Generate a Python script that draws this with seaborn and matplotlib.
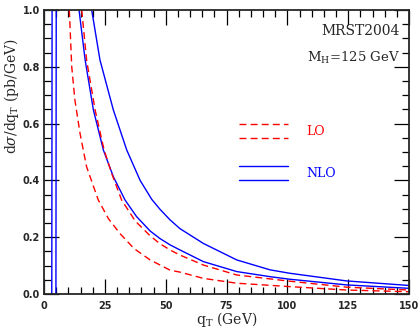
import numpy as np
import pandas as pd
import matplotlib
matplotlib.use("Agg")
import matplotlib.pyplot as plt
import seaborn as sns
from matplotlib.lines import Line2D
from matplotlib.legend_handler import HandlerBase
from matplotlib.ticker import MultipleLocator

# ---- data ----
nlo_a_qt = [2.6, 3.2, 3.4, 8, 13.5, 14.4, 16.9, 20.3, 24.4, 28.5, 33.3, 38.0, 43.6, 47.7, 51.8, 55.9, 65.5, 79.2, 92.9, 101, 124.4, 150]
nlo_a_y = [-1.0, 0.0, 1.6, 3.0, 1.07, 1.0, 0.824, 0.648, 0.507, 0.413, 0.331, 0.273, 0.222, 0.195, 0.173, 0.155, 0.114, 0.079, 0.061, 0.052, 0.032, 0.020]

nlo_b_qt = [4.3, 4.9, 5.1, 10, 18.5, 19.6, 23.0, 28.5, 34.0, 39.5, 44.3, 47.7, 51.8, 55.9, 65.5, 79.2, 92.9, 101, 124.4, 150]
nlo_b_y = [-1.0, 0.0, 1.6, 3.0, 1.06, 1.0, 0.824, 0.648, 0.507, 0.400, 0.333, 0.298, 0.261, 0.23, 0.178, 0.12, 0.085, 0.073, 0.046, 0.030]

lo_b_qt = [14.0, 15.5, 17.5, 21.0, 24.7, 27.8, 31.9, 37.5, 43.6, 47.5, 51.8, 55.9, 65.5, 79.2, 100, 124.4, 150]
lo_b_y = [1.09, 1.0, 0.824, 0.648, 0.507, 0.425, 0.331, 0.257, 0.205, 0.178, 0.155, 0.137, 0.102, 0.067, 0.046, 0.024, 0.014]

lo_a_qt = [9.8, 10.4, 11.4, 12.7, 14.8, 17.5, 22.3, 26.5, 31.2, 37.0, 43.6, 51.8, 55.9, 65.5, 79.2, 101, 124.4, 150]
lo_a_y = [1.12, 1.0, 0.80, 0.683, 0.566, 0.448, 0.331, 0.265, 0.213, 0.16, 0.12, 0.084, 0.077, 0.055, 0.038, 0.026, 0.014, 0.008]

x_ticks = [0, 25, 50, 75, 100, 125, 150]
y_ticks = [0.0, 0.2, 0.4, 0.6, 0.8, 1.0]
y_ticklabels = ["0.0", "0.2", "0.4", "0.6", "0.8", "1.0"]

RED = "#ff0000"
BLUE = "#0000ff"

sns.set_style("ticks")
plt.rcParams["font.family"] = ["DejaVu Serif", "DejaVu Sans"]
plt.rcParams["mathtext.fontset"] = "dejavuserif"

fig = plt.figure(figsize=(4.2, 3.28), dpi=100)
ax = fig.add_axes([44 / 420, 34 / 328, 365 / 420, 284 / 328])

frames = []
for name, q, y in [("nlo_a", nlo_a_qt, nlo_a_y), ("nlo_b", nlo_b_qt, nlo_b_y),
                   ("lo_a", lo_a_qt, lo_a_y), ("lo_b", lo_b_qt, lo_b_y)]:
    frames.append(pd.DataFrame({"qT": q, "val": y, "curve": name}))
df = pd.concat(frames, ignore_index=True)

for name, color, ls in [("nlo_a", BLUE, "-"), ("nlo_b", BLUE, "-"),
                        ("lo_a", RED, (0, (5, 3))), ("lo_b", RED, (0, (5, 3)))]:
    sub = df[df["curve"] == name]
    sns.lineplot(data=sub, x="qT", y="val", ax=ax, color=color, lw=1.0,
                 linestyle=ls, sort=False, estimator=None, legend=False)

ax.set_xlim(0, 150)
ax.set_ylim(0, 1.0)
ax.set_xticks(x_ticks)
ax.set_xticklabels([str(t) for t in x_ticks])
ax.set_yticks(y_ticks)
ax.set_yticklabels(y_ticklabels)
ax.xaxis.set_minor_locator(MultipleLocator(5))
ax.yaxis.set_minor_locator(MultipleLocator(0.05))
ax.tick_params(which="both", direction="in", top=True, right=True, width=0.9, color="black")
ax.tick_params(which="major", length=11)
ax.tick_params(axis="x", which="major", pad=5)
ax.tick_params(axis="y", which="major", pad=3)
ax.tick_params(which="minor", length=5)
for lab in ax.get_xticklabels() + ax.get_yticklabels():
    lab.set_family("DejaVu Sans")
    lab.set_fontweight("bold")
    lab.set_fontsize(7)
for s in ax.spines.values():
    s.set_linewidth(1.3)
    s.set_visible(True)

ax.set_xlabel(r"q$_\mathrm{T}$ (GeV)", fontsize=10)
ax.xaxis.set_label_coords(0.5, -0.058)
ax.set_ylabel(r"d$\sigma$/dq$_\mathrm{T}$ (pb/GeV)", fontsize=10)
ax.yaxis.set_label_coords(-0.063, 0.695)

ax.text(0.975, 0.925, "MRST2004", transform=ax.transAxes, ha="right", va="center", fontsize=10)
ax.text(0.975, 0.83, r"M$_\mathrm{H}$=125 GeV", transform=ax.transAxes, ha="right", va="center", fontsize=9.5)


class DoubleLine(HandlerBase):
    def __init__(self, color, ls, gap=5.0):
        super().__init__()
        self.color = color
        self.ls = ls
        self.gap = gap

    def create_artists(self, legend, orig_handle, xdescent, ydescent, width, height, fontsize, trans):
        yc = (height - ydescent) / 2
        arts = []
        for dy in (self.gap, -self.gap):
            ln = Line2D([-xdescent, width - xdescent], [yc + dy, yc + dy],
                        color=self.color, linestyle=self.ls, lw=1.0)
            ln.set_transform(trans)
            arts.append(ln)
        return arts


h_lo = Line2D([], [], color=RED)
h_nlo = Line2D([], [], color=BLUE)
leg = ax.legend([h_lo, h_nlo], ["LO", "NLO"],
                handler_map={h_lo: DoubleLine(RED, (0, (5, 3))), h_nlo: DoubleLine(BLUE, "-")},
                loc="center left", bbox_to_anchor=(0.535, 0.497), frameon=False,
                fontsize=9, handlelength=3.9, handletextpad=1.5, labelspacing=2.3,
                borderpad=0, borderaxespad=0)
leg.get_texts()[0].set_color(RED)
leg.get_texts()[1].set_color(BLUE)

fig.savefig("out.png", dpi=100)
